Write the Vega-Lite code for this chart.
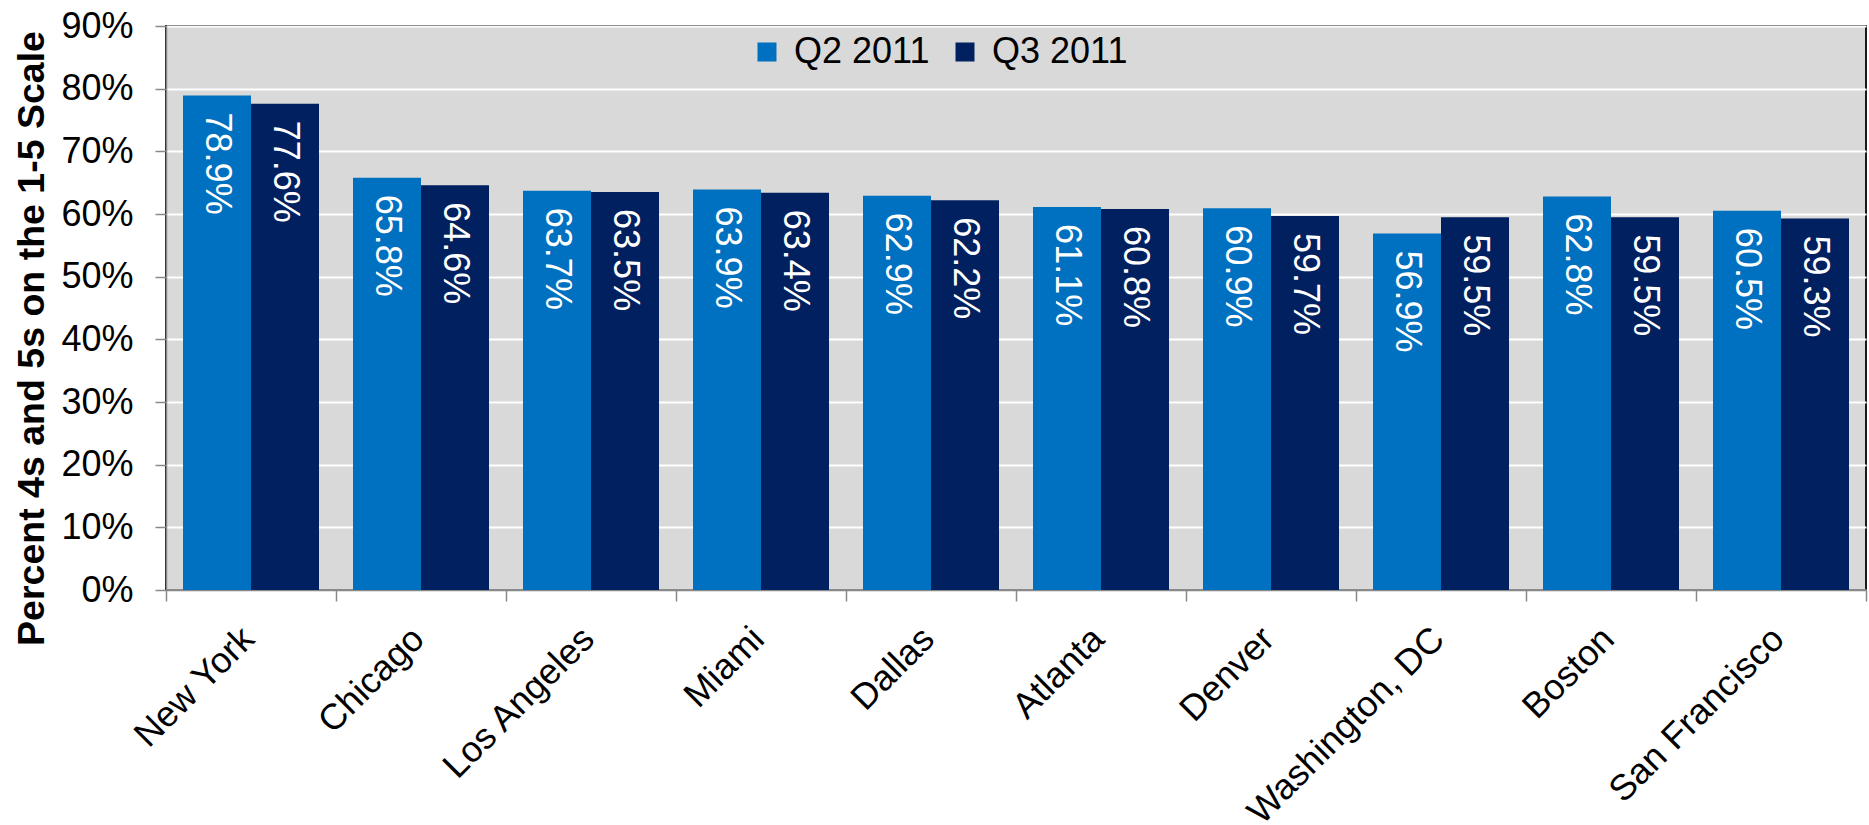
{
  "$schema": "https://vega.github.io/schema/vega-lite/v6.json",
  "width": 1700,
  "height": 564,
  "autosize": {"type": "none"},
  "padding": {"left": 166, "top": 26, "right": 3, "bottom": 235},
  "background": "white",
  "config": {
    "font": "Liberation Sans",
    "view": {"fill": "#d9d9d9", "stroke": "#1a1a1a", "strokeWidth": 2}
  },
  "data": {
    "values": [
      {"city": "New York", "quarter": "Q2 2011", "value": 0.789},
      {"city": "New York", "quarter": "Q3 2011", "value": 0.776},
      {"city": "Chicago", "quarter": "Q2 2011", "value": 0.658},
      {"city": "Chicago", "quarter": "Q3 2011", "value": 0.646},
      {"city": "Los Angeles", "quarter": "Q2 2011", "value": 0.637},
      {"city": "Los Angeles", "quarter": "Q3 2011", "value": 0.635},
      {"city": "Miami", "quarter": "Q2 2011", "value": 0.639},
      {"city": "Miami", "quarter": "Q3 2011", "value": 0.634},
      {"city": "Dallas", "quarter": "Q2 2011", "value": 0.629},
      {"city": "Dallas", "quarter": "Q3 2011", "value": 0.622},
      {"city": "Atlanta", "quarter": "Q2 2011", "value": 0.611},
      {"city": "Atlanta", "quarter": "Q3 2011", "value": 0.608},
      {"city": "Denver", "quarter": "Q2 2011", "value": 0.609},
      {"city": "Denver", "quarter": "Q3 2011", "value": 0.597},
      {"city": "Washington, DC", "quarter": "Q2 2011", "value": 0.569},
      {"city": "Washington, DC", "quarter": "Q3 2011", "value": 0.595},
      {"city": "Boston", "quarter": "Q2 2011", "value": 0.628},
      {"city": "Boston", "quarter": "Q3 2011", "value": 0.595},
      {"city": "San Francisco", "quarter": "Q2 2011", "value": 0.605},
      {"city": "San Francisco", "quarter": "Q3 2011", "value": 0.593}
    ]
  },
  "encoding": {
    "x": {
      "field": "city",
      "type": "nominal",
      "sort": null,
      "scale": {"paddingInner": 0, "paddingOuter": 0},
      "axis": {
        "title": null,
        "labelAngle": -45,
        "labelAlign": "right",
        "labelBaseline": "middle",
        "labelFontSize": 36,
        "labelColor": "black",
        "labelLimit": 0,
        "labelPadding": 32,
        "labelOffset": -3,
        "tickBand": "extent",
        "tickSize": 11,
        "tickColor": "#888888",
        "tickWidth": 1.5,
        "domainColor": "#888888",
        "domainWidth": 1.5,
        "grid": false
      }
    },
    "xOffset": {
      "field": "quarter",
      "type": "nominal",
      "scale": {"paddingInner": 0, "paddingOuter": 0.25}
    },
    "y": {
      "field": "value",
      "type": "quantitative",
      "scale": {"domain": [0, 0.9], "nice": false},
      "axis": {
        "title": "Percent 4s and 5s on the 1-5 Scale",
        "format": ".0%",
        "values": [0, 0.1, 0.2, 0.3, 0.4, 0.5, 0.6, 0.7, 0.8, 0.9],
        "labelFontSize": 36,
        "labelColor": "black",
        "labelPadding": 22,
        "tickSize": 11,
        "tickColor": "#888888",
        "tickWidth": 1.5,
        "domainColor": "#888888",
        "domainWidth": 1.5,
        "gridColor": "white",
        "gridWidth": 2,
        "titleFontSize": 37.5,
        "titleFontWeight": "bold",
        "titleColor": "black",
        "titleAngle": -90,
        "titleAlign": "center",
        "titleBaseline": "alphabetic",
        "titleX": -123,
        "titleY": 312
      }
    }
  },
  "layer": [
    {
      "mark": {"type": "bar"},
      "encoding": {
        "color": {
          "field": "quarter",
          "type": "nominal",
          "scale": {"domain": ["Q2 2011", "Q3 2011"], "range": ["#0070c0", "#002060"]},
          "legend": {
            "orient": "none",
            "legendX": 583,
            "legendY": 8,
            "direction": "horizontal",
            "title": null,
            "symbolType": "square",
            "symbolSize": 361,
            "symbolStrokeWidth": 0,
            "symbolOpacity": 1,
            "labelFontSize": 36,
            "labelColor": "black",
            "labelOffset": 9,
            "columnPadding": 17,
            "padding": 0
          }
        }
      }
    },
    {
      "mark": {
        "type": "text",
        "angle": 90,
        "align": "left",
        "baseline": "middle",
        "dx": 17,
        "color": "white",
        "fontSize": 36
      },
      "encoding": {
        "text": {"field": "value", "type": "quantitative", "format": ".1%"}
      }
    }
  ]
}
